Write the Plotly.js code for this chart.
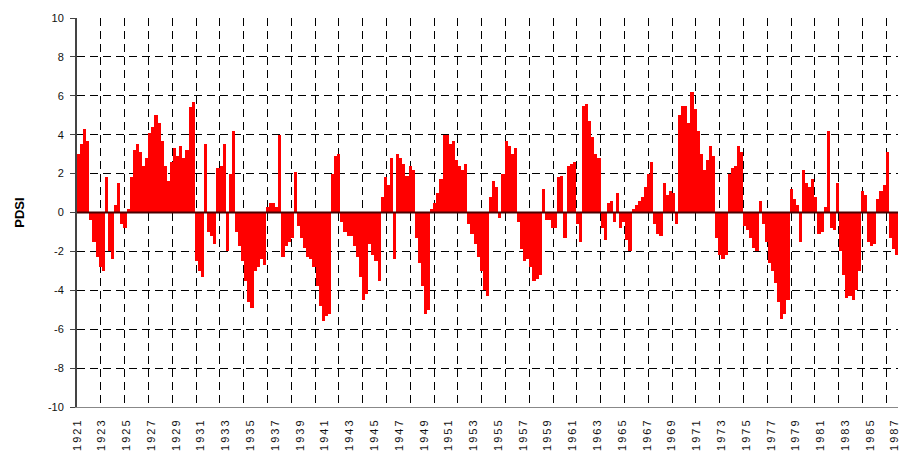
<!DOCTYPE html>
<html>
<head>
<meta charset="utf-8">
<script src="https://cdn.plot.ly/plotly-3.0.1.min.js"></script>
<style>
  html, body { margin: 0; padding: 0; background: #fff; }
  #chart { width: 899px; height: 456px; }
  .xtick text { letter-spacing: 2px; }
</style>
</head>
<body>
<div id="chart"></div>
<script>
// Quarterly PDSI values (each value = one quarter year)
const startYear = 1921;
const stepYears = 0.25;

const pdsi1921to1930 = [3.0, 3.5, 4.3, 3.7, -0.4, -1.5, -2.3, -2.8, -3.0, 1.8,
  -2.0, -2.4, 0.4, 1.5, -0.6, -0.8, 0.2, 1.8, 3.2, 3.5,
  3.1, 2.4, 2.8, 4.1, 4.4, 5.0, 4.6, 3.7, 2.4, 1.6,
  2.6, 3.3, 2.9, 3.4, 2.8, 3.2, 5.4, 5.7, -2.5, -3.0];
const pdsi1931to1940 = [-3.3, 3.5, -1.0, -1.2, -1.6, 2.3, 2.4, 3.5, -2.0, 2.0,
  4.2, -1.0, -1.7, -2.5, -3.5, -4.6, -4.9, -3.0, -2.8, -2.4,
  -2.7, 0.3, 0.5, 0.5, 0.3, 4.0, -2.3, -1.7, -1.5, -1.3,
  2.1, -0.7, -1.3, -1.8, -2.3, -2.4, -2.8, -3.8, -4.8, -5.6];
const pdsi1941to1950 = [-5.3, -5.2, 2.0, 2.9, 3.0, -0.5, -1.0, -1.2, -1.2, -1.7,
  -2.3, -3.3, -4.5, -4.2, -1.6, -2.2, -2.5, -3.5, 0.8, 1.8,
  1.4, 2.8, -2.4, 3.0, 2.8, 2.5, 1.9, 2.4, 2.2, -1.3,
  -2.6, -3.8, -5.2, -5.0, 0.2, 0.5, 1.0, 1.7, 4.0, 4.0];
const pdsi1951to1960 = [3.5, 3.7, 2.7, 2.4, 2.2, 2.5, -0.6, -1.1, -1.6, -2.3,
  -3.0, -4.0, -4.3, 0.8, 1.6, 1.3, -0.3, 2.0, 3.7, 3.4,
  3.0, 3.3, -0.5, -1.9, -2.5, -2.4, -2.8, -3.5, -3.4, -3.2,
  1.2, -0.4, -0.4, -0.8, -0.8, 1.8, 1.9, -1.3, 2.4, 2.5];
const pdsi1961to1970 = [2.6, -0.6, -1.5, 5.5, 5.6, 4.7, 3.9, 3.0, 2.8, -0.8,
  -1.4, 0.5, 0.6, -0.5, 1.0, -0.8, -0.5, -1.4, -2.0, 0.2,
  0.4, 0.6, 0.8, 1.3, 2.0, 2.6, -0.6, -1.1, -1.2, 1.5,
  0.9, 1.1, 1.0, -0.6, 5.0, 5.5, 5.5, 4.6, 6.2, 5.3];
const pdsi1971to1980 = [4.2, 3.0, 2.2, 2.7, 3.4, 2.9, -1.3, -2.2, -2.4, -2.2,
  2.0, 2.3, 2.4, 3.4, 3.1, -0.7, -0.9, -1.3, -1.8, -2.0,
  0.6, -0.6, -1.5, -2.6, -3.0, -3.6, -4.6, -5.5, -5.2, -4.5,
  1.2, 0.7, 0.4, -1.5, 2.2, 1.5, 1.3, 1.7, 0.8, -1.1];
const pdsi1981to1987 = [-1.0, 0.3, 4.2, -0.8, -0.9, 1.5, -2.0, -3.2, -4.4, -4.3,
  -4.5, -4.0, -3.0, 1.1, 0.9, -1.5, -1.7, -1.6, 0.7, 1.1,
  1.4, 3.1, -1.3, -1.9, -2.2];

const tickYears = [1921, 1923, 1925, 1927, 1929, 1931, 1933, 1935, 1937, 1939,
  1941, 1943, 1945, 1947, 1949, 1951, 1953, 1955, 1957, 1959,
  1961, 1963, 1965, 1967, 1969, 1971, 1973, 1975, 1977, 1979,
  1981, 1983, 1985, 1987];
const tickLabels = tickYears.map(String);

const yTickVals = [-10, -8, -6, -4, -2, 0, 2, 4, 6, 8, 10];
const yTickLabels = ['-10', '-8', '-6', '-4', '-2', '0', '2', '4', '6', '8', '10'];

const pdsi = [].concat(pdsi1921to1930, pdsi1931to1940, pdsi1941to1950,
  pdsi1951to1960, pdsi1961to1970, pdsi1971to1980, pdsi1981to1987);
const years = pdsi.map((v, i) => startYear + i * stepYears + stepYears / 2);
const endYear = startYear + pdsi.length * stepYears;

const font = 'Arial, "Liberation Sans", sans-serif';

const traces = [
  {
    type: 'bar',
    x: years,
    y: pdsi,
    width: stepYears,
    marker: { color: '#ff0000', line: { width: 0 } },
    hoverinfo: 'x+y',
    showlegend: false
  },
  {
    type: 'scatter',
    x: [],
    y: [],
    xaxis: 'x2',
    yaxis: 'y',
    showlegend: false,
    hoverinfo: 'skip'
  }
];

const layout = {
  width: 899,
  height: 456,
  margin: { l: 77, r: 1, t: 18, b: 49 },
  paper_bgcolor: '#ffffff',
  plot_bgcolor: '#ffffff',
  bargap: 0,
  showlegend: false,
  font: { family: font, size: 11, color: '#000' },
  xaxis: {
    range: [startYear, endYear],
    tickmode: 'array',
    tickvals: tickYears,
    ticktext: tickLabels,
    tickangle: -90,
    ticks: '',
    ticklabelstandoff: 6,
    ticklabeloverflow: 'allow',
    showgrid: false,
    zeroline: false,
    showline: true,
    linecolor: '#888',
    linewidth: 1,
    tickfont: { family: font, size: 11, color: '#111' }
  },
  xaxis2: {
    overlaying: 'x',
    anchor: 'y',
    side: 'bottom',
    range: [startYear, endYear],
    tick0: startYear,
    dtick: 1.921,
    showticklabels: false,
    ticks: '',
    showgrid: true,
    gridcolor: '#000',
    gridwidth: 1,
    griddash: '8px,5px',
    zeroline: false,
    showline: false
  },
  yaxis: {
    range: [-10, 10],
    tickmode: 'array',
    tickvals: yTickVals,
    ticktext: yTickLabels,
    ticks: 'outside',
    ticklen: 5,
    tickcolor: '#444',
    tickwidth: 1,
    ticklabelstandoff: 4,
    showgrid: true,
    gridcolor: '#000',
    gridwidth: 1,
    griddash: '8px,5px',
    zeroline: false,
    showline: true,
    linecolor: '#444',
    linewidth: 2,
    tickfont: { family: font, size: 11, color: '#111' },
    title: { text: '<b>PDSI</b>', font: { family: font, size: 13, color: '#000' }, standoff: 20 }
  },
  shapes: [
    {
      type: 'line', xref: 'paper', x0: 0, x1: 1, yref: 'y', y0: 0, y1: 0,
      line: { color: '#4a0000', width: 2 }, layer: 'above'
    }
  ]
};

Plotly.newPlot('chart', traces, layout, { displayModeBar: false, staticPlot: true });
</script>
</body>
</html>
